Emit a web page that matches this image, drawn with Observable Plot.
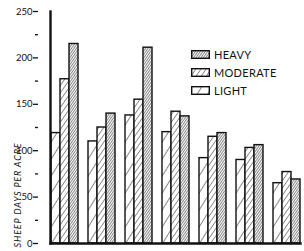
<!DOCTYPE html>
<html>
<head>
<meta charset="utf-8">
<script src="https://cdn.jsdelivr.net/npm/d3@7"></script>
<script src="https://cdn.jsdelivr.net/npm/@observablehq/plot@0.6"></script>
<style>
  html, body { margin: 0; padding: 0; background: #fff; }
  #wrap { position: relative; width: 304px; height: 251px; font-family: Lato, "Open Sans", sans-serif; }
  #legend { position: absolute; left: 191px; top: 45px; }
  .row { display: flex; align-items: center; height: 18px; font-size: 11px; letter-spacing: 0.3px; color: #111; }
  .row svg { margin-right: 4px; }
</style>
</head>
<body>
<svg width="0" height="0" style="position:absolute">
  <defs>
    <pattern id="pLight" patternUnits="userSpaceOnUse" width="9" height="8" patternTransform="rotate(32)">
      <rect width="9" height="8" fill="#fff"/>
      <line x1="0" y1="0" x2="0" y2="8" stroke="#111" stroke-width="1"/>
    </pattern>
    <pattern id="pModerate" patternUnits="userSpaceOnUse" width="4.2" height="8" patternTransform="rotate(35)">
      <rect width="4.2" height="8" fill="#fff"/>
      <line x1="0" y1="0" x2="0" y2="8" stroke="#111" stroke-width="0.9"/>
    </pattern>
    <pattern id="pHeavy" patternUnits="userSpaceOnUse" width="2" height="8" patternTransform="rotate(35)">
      <rect width="2" height="8" fill="#fff"/>
      <line x1="0" y1="0" x2="0" y2="8" stroke="#111" stroke-width="1"/>
    </pattern>
  </defs>
</svg>
<div id="wrap"></div>
<script>
const groups = ["1", "2", "3", "4", "5", "6", "7"];
const series = ["LIGHT", "MODERATE", "HEAVY"];
const legendOrder = ["HEAVY", "MODERATE", "LIGHT"];
const light = [119, 110, 138, 120, 92, 90, 65];
const moderate = [177, 125, 155, 142, 115, 103, 77];
const heavy = [215, 140, 211, 137, 119, 106, 69];
const majorTicks = [0, 50, 100, 150, 200, 250];
const minorTicks = [25, 75, 125, 175, 225];
const yLabel = "SHEEP DAYS PER ACRE";
const patterns = {LIGHT: "url(#pLight)", MODERATE: "url(#pModerate)", HEAVY: "url(#pHeavy)"};

const seriesValues = {LIGHT: light, MODERATE: moderate, HEAVY: heavy};
const data = [];
groups.forEach((g, i) => series.forEach(s => data.push({group: g, series: s, value: seriesValues[s][i]})));

const chart = Plot.plot({
  width: 304,
  height: 251,
  marginLeft: 38,
  marginRight: 0,
  marginTop: 11,
  marginBottom: 8,
  style: {fontFamily: "Lato, 'Open Sans', sans-serif", fontSize: "9px", color: "#111", background: "transparent"},
  fx: {domain: groups, paddingInner: 0.243, paddingOuter: 0.216, align: 0.75, axis: null, label: null},
  x: {domain: series, padding: 0, axis: null},
  y: {domain: [0, 250], axis: null},
  color: {domain: series, range: series.map(s => patterns[s])},
  marks: [
    Plot.barY(data, {fx: "group", x: "series", y: "value", fill: "series", stroke: "#111", strokeWidth: 1.4}),
    Plot.frame({anchor: "bottom", facet: "super", stroke: "#111", strokeWidth: 2.4}),
    Plot.frame({anchor: "left", facet: "super", stroke: "#111", strokeWidth: 2.4}),
    Plot.axisY({ticks: majorTicks, tickSize: 5, tickPadding: 1, dx: -12, strokeWidth: 1.3, label: null, fontSize: 9.5}),
    Plot.axisY({ticks: minorTicks, tickSize: 3, dx: -12, tickFormat: () => "", strokeWidth: 1.3, label: null}),
    Plot.text([yLabel], {facet: "super", frameAnchor: "bottom-left", rotate: -90, textAnchor: "start", dx: -30, dy: 4, fontSize: 9, fontStyle: "italic"})
  ]
});

d3.select(chart).selectAll("text").filter(function() { return this.textContent === yLabel; })
  .attr("letter-spacing", "0.85px");

const wrap = document.getElementById("wrap");
wrap.appendChild(chart);

const legend = document.createElement("div");
legend.id = "legend";
legendOrder.forEach(s => {
  const row = document.createElement("div");
  row.className = "row";
  row.innerHTML = `<svg width="19" height="9"><rect x="0.7" y="0.7" width="17.6" height="7.6" fill="${patterns[s]}" stroke="#111" stroke-width="1.4"/></svg><span>${s}</span>`;
  legend.appendChild(row);
});
wrap.appendChild(legend);
</script>
</body>
</html>
